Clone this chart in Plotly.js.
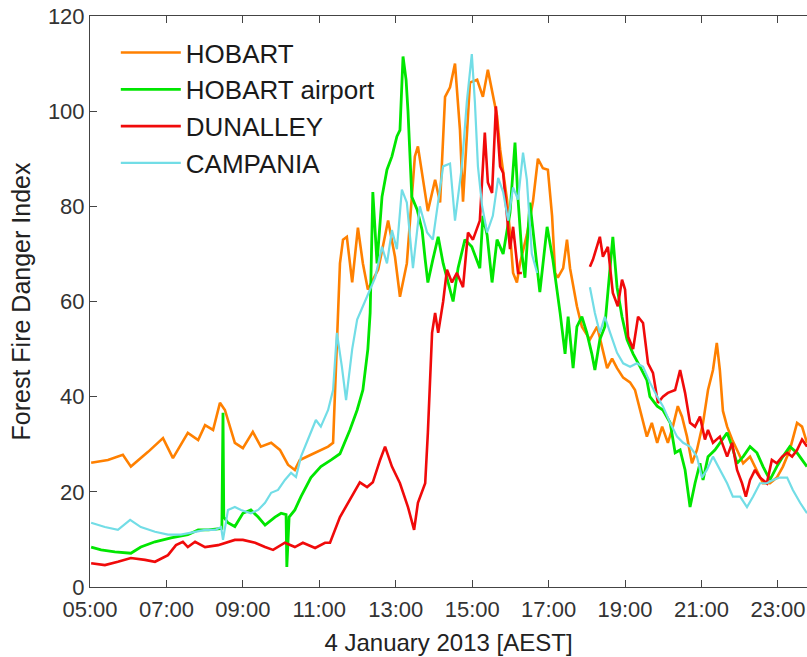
<!DOCTYPE html>
<html>
<head>
<meta charset="utf-8">
<script src="https://cdn.plot.ly/plotly-3.0.1.min.js"></script>
<style>html,body{margin:0;padding:0;background:#fff;}#chart{width:807px;height:657px;}</style>
</head>
<body>
<div id="chart"></div>
<script>
// Time of day (decimal hours, 4 January 2013, AEST) and Forest Fire Danger Index values
var hobartTime = [5.03,5.47,5.86,6.07,6.52,6.91,7.17,7.56,7.83,8.01,8.22,8.40,8.53,8.79,9.00,9.26,9.47,9.74,9.97,10.18,10.36,10.49,10.78,11.23,11.36,11.41,11.46,11.54,11.62,11.72,11.86,12.01,12.14,12.27,12.54,12.80,12.98,13.11,13.29,13.50,13.58,13.71,13.84,14.03,14.16,14.29,14.42,14.55,14.68,14.76,14.94,15.13,15.28,15.41,15.54,15.65,15.73,15.81,15.91,15.99,16.07,16.17,16.25,16.43,16.59,16.72,16.85,16.98,17.09,17.17,17.24,17.38,17.48,17.56,17.74,17.87,18.08,18.27,18.40,18.53,18.66,18.79,18.95,19.13,19.26,19.44,19.57,19.70,19.84,19.97,20.12,20.25,20.38,20.49,20.62,20.75,20.88,21.04,21.17,21.30,21.40,21.48,21.56,21.67,21.80,21.93,22.09,22.27,22.45,22.61,22.79,22.97,23.13,23.31,23.50,23.63,23.76];
var hobartValue = [26.1,26.7,27.8,25.3,28.4,31.3,27.1,32.4,30.9,34,33,38.7,37.2,30.3,29.2,32.6,29.5,30.3,28.8,25.7,24.6,26.7,27.8,29.5,30.3,41,55,68,73,73.6,64,75.5,68,62.5,66.7,77,69.4,61,68,90.5,92.6,85.6,79,85.6,80.8,103,105,110,96,81,106,106.6,103,108.7,103,99,92,87,81.4,74.4,66,64,68,74,81,90,88,87.7,78,66,65,67,73,67,59,54.7,52,54.7,50,46,48,46,44,43,41.4,35.8,31.6,34.5,30.3,33.7,30.3,33.7,38,35.8,31.6,26,28.8,34.5,41.4,45.6,51.3,45.6,37,33.7,31,28.8,26,27.4,24.6,21.8,21.8,23,25.3,28.8,34.5,33.7,30.3];

var airportTime = [5.03,5.29,5.65,6.07,6.33,6.70,7.12,7.56,7.83,8.10,8.45,8.48,8.50,8.61,8.79,9.00,9.21,9.40,9.58,9.84,10.00,10.13,10.15,10.21,10.36,10.52,10.78,11.04,11.31,11.54,11.80,11.99,12.14,12.27,12.33,12.40,12.51,12.64,12.77,12.90,13.03,13.11,13.19,13.27,13.32,13.42,13.56,13.69,13.77,13.84,13.97,14.11,14.24,14.37,14.50,14.63,14.81,14.99,15.20,15.28,15.39,15.52,15.65,15.81,15.99,16.12,16.20,16.30,16.38,16.51,16.64,16.77,16.96,17.11,17.30,17.43,17.51,17.64,17.74,17.87,18.00,18.13,18.21,18.34,18.47,18.55,18.68,18.79,18.92,19.05,19.21,19.39,19.57,19.65,19.84,19.99,20.18,20.31,20.44,20.57,20.70,20.83,20.96,21.04,21.17,21.35,21.48,21.67,21.80,21.93,22.09,22.27,22.45,22.61,22.79,22.97,23.13,23.31,23.50,23.76];
var airportValue = [8.4,7.8,7.4,7.1,8.4,9.5,10.3,11,12,12,12.3,36.6,14.7,13.5,12.7,15.5,16.2,14.7,13,14.7,15.5,15.2,4.2,14.7,16.2,19,23,25.3,26.7,28,33,37.2,41.4,50,57.6,83,68,82,87.7,90.5,94.7,96,111.5,106.6,100,82,79.3,75,68.8,64,68.8,73.6,68,64,60,67,73,71.5,67,78,74,64,73,70,78.7,93.4,81.4,70,65,80.8,71,62,75.7,68.8,57.6,49,56.8,46,54.7,56.8,53.4,49,45.6,52,54.7,62,73.6,63,56.8,52,49,46.3,43.5,40,38,37.2,34.5,28.2,28.8,24.6,16.8,21.8,26,22.5,27.4,28.8,30.3,32.4,29.5,26,27.4,29.5,28.2,25.3,22.5,25.3,27.4,29.5,28.2,25.3];

var dunalleyTime = [5.03,5.39,5.73,6.07,6.44,6.70,7.04,7.25,7.43,7.56,7.75,8.01,8.35,8.53,8.79,9.00,9.32,9.58,9.79,10.10,10.36,10.57,10.89,11.15,11.28,11.54,11.80,12.06,12.25,12.40,12.59,12.72,12.90,13.11,13.32,13.48,13.58,13.77,13.84,13.95,14.03,14.11,14.24,14.34,14.47,14.60,14.76,14.89,15.02,15.20,15.33,15.41,15.52,15.62,15.73,15.81,15.91,15.99,16.07,16.20,16.30,17.20,18.08,18.16,18.34,18.42,18.55,18.68,18.81,18.92,19.00,19.08,19.21,19.34,19.47,19.60,19.73,19.86,19.99,20.12,20.31,20.44,20.57,20.70,20.83,20.96,21.09,21.17,21.30,21.48,21.67,21.80,21.93,22.06,22.16,22.27,22.40,22.53,22.71,22.84,22.97,23.11,23.24,23.37,23.50,23.63,23.76];
var dunalleyValue = [5,4.6,5.3,6.1,5.7,5.3,6.7,8.8,9.5,8.4,9.5,8.4,8.8,9.3,9.9,9.9,9.3,8.4,7.8,9.3,8.4,9.3,8.2,9.3,9.3,14.7,18.3,22,21,22,26.7,29.5,25.3,21.8,16.8,12,17.7,21.8,32.4,53.4,57.6,53.4,60,66.7,64,66,63,74.5,73,77,95.5,85,82.8,101,88.4,87,78,71,75.7,66,66,null,67.3,68.8,73.6,69.4,71.5,61.8,59,64.6,62.5,52.6,50,56.8,55.5,47,45,38.7,40,40.8,41.4,45.6,40.8,34.5,33.7,35.8,31,33,30.3,31.6,27.4,30.3,24.6,21.8,19,22.5,24.6,23,21.8,26.7,26,27.4,28.2,27.4,28.8,31,29.5];

var campaniaTime = [5.03,5.39,5.73,6.05,6.33,6.70,7.04,7.38,7.75,8.01,8.27,8.43,8.48,8.61,8.79,8.95,9.21,9.40,9.58,9.74,9.92,10.10,10.26,10.39,10.52,10.70,10.91,11.04,11.23,11.36,11.46,11.59,11.70,11.86,11.99,12.14,12.25,12.46,12.64,12.77,12.90,13.03,13.16,13.29,13.45,13.63,13.82,13.97,14.24,14.42,14.55,14.73,14.86,14.99,15.07,15.15,15.26,15.39,15.54,15.68,15.81,15.94,16.07,16.20,16.33,16.43,16.56,16.70,17.40,18.08,18.21,18.34,18.47,18.61,18.79,18.95,19.13,19.31,19.47,19.65,19.84,19.99,20.18,20.36,20.52,20.70,20.88,21.01,21.14,21.30,21.48,21.67,21.82,22.01,22.19,22.35,22.53,22.71,22.87,23.05,23.24,23.39,23.58,23.76];
var campaniaValue = [13.5,12.6,12,14.1,12.6,11.6,11,11,11.6,12,12,12.6,9.9,16.2,16.8,16.2,15.5,16.2,17.7,19.8,20.4,22.5,24,23.1,27.4,31,35.1,33.7,37.2,41.4,53.4,46.3,39.3,50,56.2,59,61,65,71.5,68,75,71,83.5,80.8,67,80,74.5,73,88.4,89,77,88.4,102,112,102,88.4,80,74.5,78,86,83,77,84,81.4,91.3,85.6,70,66,null,63,57.6,53.4,56.8,53.4,49.2,47,46.3,47,46.3,43,40,38,34.5,31.6,30.3,29.5,27.4,23,24.6,27.4,24.6,21.8,19,19,16.8,19,21.8,21.8,22.5,23,23,20.4,17.7,15.5];

var seriesNames = ['HOBART', 'HOBART airport', 'DUNALLEY', 'CAMPANIA'];
var tickHours = [5, 7, 9, 11, 13, 15, 17, 19, 21, 23];
var tickLabels = ['05:00', '07:00', '09:00', '11:00', '13:00', '15:00', '17:00', '19:00', '21:00', '23:00'];
var yTicks = [0, 20, 40, 60, 80, 100, 120];

var colors = ['#FF8000', '#00E600', '#F00A0A', '#72DDE6'];
var widths = [2.6, 2.8, 2.6, 2.2];
var xs = [hobartTime, airportTime, dunalleyTime, campaniaTime];
var ys = [hobartValue, airportValue, dunalleyValue, campaniaValue];

var FONT = 'Liberation Sans, Arial, Helvetica, sans-serif';
var traces = seriesNames.map(function (n, i) {
  return {
    type: 'scatter', mode: 'lines', name: n,
    x: xs[i], y: ys[i], connectgaps: false,
    line: {color: colors[i], width: widths[i]}
  };
});

var layout = {
  width: 807, height: 657,
  margin: {l: 90, r: 0, t: 16, b: 70, pad: 0},
  paper_bgcolor: '#ffffff', plot_bgcolor: '#ffffff',
  font: {family: FONT, color: '#333333'},
  showlegend: true,
  legend: {
    x: 0.036, y: 0.977, xanchor: 'left', yanchor: 'top',
    bgcolor: 'rgba(0,0,0,0)', borderwidth: 0,
    font: {family: FONT, size: 26, color: '#1a1a1a'},
    itemwidth: 60, tracegroupgap: 0
  },
  xaxis: {
    range: [5, 23.76], tickmode: 'array', tickvals: tickHours, ticktext: tickLabels,
    ticks: 'inside', ticklen: 7, tickwidth: 1, tickcolor: '#444',
    showline: true, linecolor: '#444', linewidth: 1, mirror: 'ticks',
    showgrid: false, zeroline: false, ticklabelstandoff: 3,
    tickfont: {family: FONT, size: 22, color: '#333'},
    title: {text: '4 January 2013 [AEST]', font: {family: FONT, size: 24, color: '#222'}, standoff: 12}
  },
  yaxis: {
    range: [0, 120], tickmode: 'array', tickvals: yTicks,
    ticks: 'inside', ticklen: 7, tickwidth: 1, tickcolor: '#444',
    showline: true, linecolor: '#444', linewidth: 1, mirror: false,
    showgrid: false, zeroline: false,
    tickfont: {family: FONT, size: 22, color: '#333'},
    title: {text: 'Forest Fire Danger Index', font: {family: FONT, size: 25, color: '#222'}, standoff: 10}
  }
};

Plotly.newPlot('chart', traces, layout, {staticPlot: true, displayModeBar: false});
</script>
</body>
</html>
